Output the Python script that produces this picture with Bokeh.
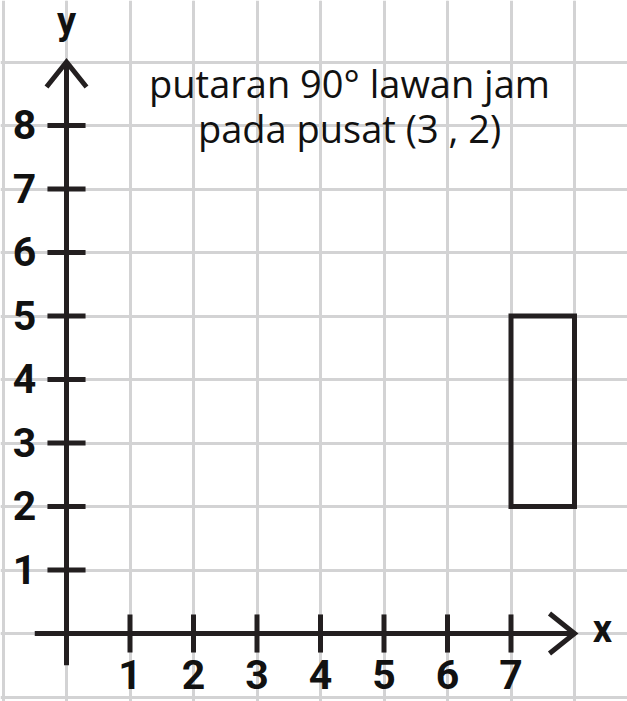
from bokeh.plotting import figure
from bokeh.models import Grid, FixedTicker, Range1d
from bokeh.core.properties import value
from bokeh.embed import file_html
from bokeh.resources import INLINE

# ---- data ----
x_ticks = [1, 2, 3, 4, 5, 6, 7]
x_labels = ["1", "2", "3", "4", "5", "6", "7"]
y_ticks = [1, 2, 3, 4, 5, 6, 7, 8]
y_labels = ["1", "2", "3", "4", "5", "6", "7", "8"]
grid_x = list(range(-1, 10))
grid_y = list(range(-1, 11))
shape_x = [7, 8, 8, 7]
shape_y = [2, 2, 5, 5]
x_axis_span = [-0.5, 8]
y_axis_span = [-0.5, 9]
title_lines = ["putaran 90° lawan jam", "pada pusat (3 , 2)"]
axis_names = ["x", "y"]

# ---- layout / style ----
PX = 63.5            # pixels per unit
W, H = 627, 701
OX, OY = 66, 633     # origin pixel inside the figure
AX = "#231f20"
GRID = "#d3d3d4"
TXT = "#111111"


def up(fs):
    # baseline correction (in data units) for a font of fs px
    return 0.38 * fs / PX


def ypx(py):
    # picture pixel row -> data y
    return (OY - py) / PX


p = figure(width=W, height=H,
           x_range=Range1d(-OX / PX, (W - OX) / PX),
           y_range=Range1d((OY - H) / PX, OY / PX),
           output_backend="svg", toolbar_location=None,
           x_axis_location=None, y_axis_location=None,
           min_border=0, outline_line_color=None)
p.background_fill_color = "white"
p.border_fill_color = "white"

p.add_layout(Grid(dimension=0, ticker=FixedTicker(ticks=grid_x),
                  grid_line_color=GRID, grid_line_width=3))
p.add_layout(Grid(dimension=1, ticker=FixedTicker(ticks=grid_y),
                  grid_line_color=GRID, grid_line_width=3))

# shape
p.patch(shape_x, shape_y, fill_color=None, line_color=AX, line_width=5,
        line_join="miter")

# axes
p.segment(x0=[x_axis_span[0], 0], y0=[0, y_axis_span[0]],
          x1=[x_axis_span[1], 0], y1=[0, y_axis_span[1]],
          line_color=AX, line_width=5)
L, HW = 25 / PX, 20 / PX
xe, ye = x_axis_span[1], y_axis_span[1]
p.multi_line(xs=[[xe - L, xe, xe - L], [-HW, 0, HW]],
             ys=[[HW, 0, -HW], [ye - L, ye, ye - L]],
             line_color=AX, line_width=5, line_join="miter")

# ticks
T = 0.3
p.segment(x0=x_ticks, y0=[-T] * len(x_ticks), x1=x_ticks, y1=[T] * len(x_ticks),
          line_color=AX, line_width=5)
p.segment(x0=[-T] * len(y_ticks), y0=y_ticks, x1=[T] * len(y_ticks), y1=y_ticks,
          line_color=AX, line_width=5)

# tick labels
FS = 41
p.text(x=x_ticks, y=[ypx(690) + up(FS)] * len(x_ticks), text=x_labels,
       text_font=value("Roboto"), text_font_style="bold", text_font_size=f"{FS}px",
       text_align="center", text_baseline="alphabetic", text_color=TXT)
p.text(x=[-0.66] * len(y_ticks), y=[v - 15 / PX + up(FS) for v in y_ticks], text=y_labels,
       text_font=value("Roboto"), text_font_style="bold", text_font_size=f"{FS}px",
       text_align="center", text_baseline="alphabetic", text_color=TXT)

# axis names
FN = 38
p.text(x=[(602 - 66) / PX, 0], y=[ypx(643) + up(FN), ypx(35) + up(FN)], text=axis_names,
       text_font=value("Roboto"), text_font_style="bold", text_font_size=f"{FN}px",
       text_align="center", text_baseline="alphabetic", text_color=TXT)

# title
FT = 38
p.text(x=[4.457, 4.457], y=[ypx(97) + up(FT), ypx(142) + up(FT)], text=title_lines,
       text_font=value("Open Sans"), text_font_size=f"{FT}px",
       text_align="center", text_baseline="alphabetic", text_color=TXT)

open("out.html", "w").write(file_html(p, INLINE))
